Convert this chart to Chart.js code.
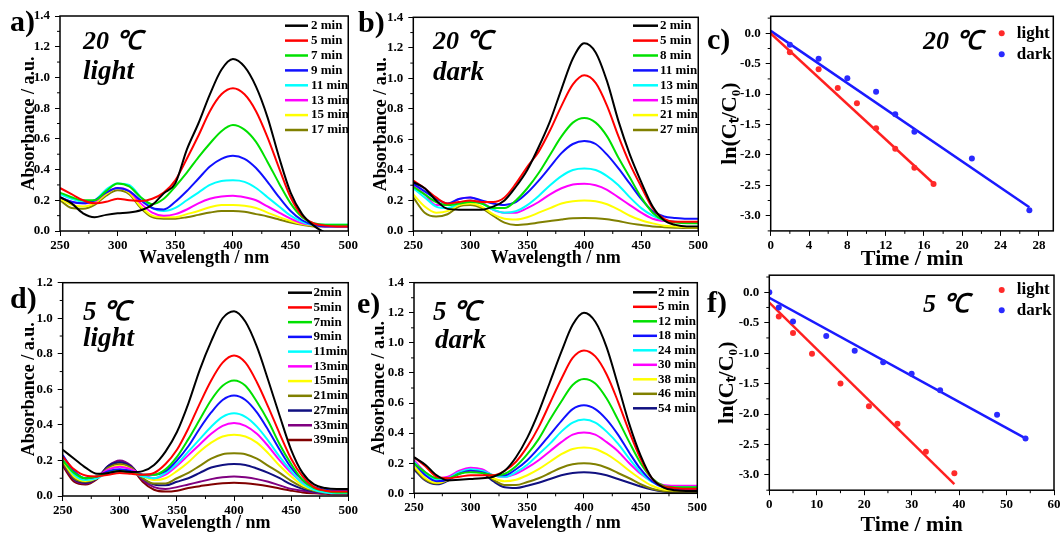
<!DOCTYPE html>
<html>
<head>
<meta charset="utf-8">
<script src="https://cdn.jsdelivr.net/npm/chart.js@4.4.1/dist/chart.umd.min.js"></script>
<style>
html, body { margin: 0; padding: 0; background: #fff; overflow: hidden; }
#fig { position: relative; width: 1063px; height: 533px; }
#fig canvas { position: absolute; }
.lbl { position: absolute; font-family: 'Liberation Serif', 'Times New Roman', serif; font-weight: bold; line-height: 1; white-space: nowrap; color: #000; }
.it { font-style: italic; }
</style>
</head>
<body>
<div id="fig"></div>
<script>
// wavelength grid shared by all spectra (nm)
var wavelengths = [250,260,270,280,290,300,310,320,330,340,350,360,370,380,390,400,410,420,430,440,450,460,470,480,490,500];

// a) 20 C light
var aLabels = ['2 min','5 min','7 min','9 min','11 min','13 min','15 min','17 min'];
var a2  = [0.22,0.18,0.115,0.09,0.105,0.115,0.12,0.135,0.17,0.245,0.31,0.53,0.7,0.89,1.05,1.12,1.07,0.94,0.74,0.48,0.25,0.11,0.035,-0.01,-0.03,-0.04];
var a5  = [0.28,0.24,0.2,0.18,0.19,0.21,0.2,0.195,0.21,0.25,0.33,0.47,0.62,0.78,0.89,0.93,0.89,0.78,0.61,0.41,0.22,0.1,0.05,0.035,0.03,0.03];
var a7  = [0.25,0.22,0.2,0.2,0.26,0.31,0.29,0.22,0.175,0.21,0.29,0.38,0.48,0.57,0.65,0.69,0.66,0.58,0.45,0.31,0.18,0.09,0.05,0.04,0.04,0.04];
var a9  = [0.22,0.19,0.18,0.2,0.25,0.28,0.26,0.2,0.15,0.14,0.19,0.26,0.34,0.42,0.47,0.49,0.47,0.41,0.32,0.22,0.13,0.07,0.04,0.03,0.03,0.03];
var a11 = [0.24,0.21,0.19,0.2,0.27,0.31,0.3,0.22,0.15,0.13,0.15,0.2,0.25,0.3,0.325,0.33,0.32,0.28,0.22,0.16,0.1,0.06,0.04,0.04,0.04,0.04];
var a13 = [0.22,0.19,0.18,0.19,0.25,0.28,0.26,0.18,0.12,0.1,0.11,0.14,0.18,0.21,0.225,0.23,0.22,0.2,0.16,0.12,0.08,0.05,0.04,0.03,0.03,0.03];
var a15 = [0.21,0.17,0.16,0.18,0.24,0.28,0.25,0.16,0.1,0.09,0.09,0.11,0.13,0.155,0.17,0.17,0.165,0.15,0.12,0.09,0.065,0.045,0.035,0.03,0.03,0.03];
var a17 = [0.2,0.15,0.145,0.17,0.23,0.265,0.24,0.15,0.09,0.08,0.08,0.09,0.105,0.12,0.13,0.13,0.125,0.11,0.095,0.075,0.055,0.04,0.03,0.03,0.03,0.03];

// b) 20 C dark
var bLabels = ['2 min','5 min','8 min','11 min','13 min','15 min','21 min','27 min'];
var b2  = [0.32,0.28,0.2,0.145,0.14,0.14,0.14,0.16,0.2,0.29,0.4,0.55,0.72,0.93,1.13,1.23,1.17,0.98,0.72,0.5,0.32,0.16,0.07,0.04,0.03,0.03];
var b5  = [0.33,0.28,0.22,0.18,0.19,0.2,0.19,0.19,0.22,0.31,0.42,0.52,0.66,0.82,0.96,1.02,0.97,0.82,0.62,0.44,0.29,0.15,0.08,0.06,0.06,0.06];
var b8  = [0.29,0.24,0.19,0.17,0.18,0.19,0.18,0.15,0.15,0.2,0.28,0.38,0.5,0.62,0.71,0.74,0.71,0.62,0.48,0.35,0.22,0.12,0.07,0.055,0.05,0.05];
var b11 = [0.31,0.26,0.21,0.18,0.21,0.22,0.2,0.18,0.17,0.19,0.25,0.33,0.42,0.51,0.57,0.59,0.57,0.5,0.41,0.31,0.21,0.13,0.095,0.085,0.08,0.08];
var b13 = [0.28,0.22,0.16,0.15,0.18,0.2,0.18,0.14,0.12,0.13,0.17,0.23,0.3,0.36,0.4,0.41,0.4,0.36,0.3,0.22,0.15,0.1,0.07,0.06,0.055,0.05];
var b15 = [0.3,0.24,0.17,0.17,0.21,0.22,0.19,0.14,0.12,0.12,0.15,0.19,0.24,0.28,0.305,0.31,0.3,0.27,0.22,0.17,0.12,0.08,0.065,0.06,0.055,0.055];
var b21 = [0.24,0.16,0.12,0.13,0.17,0.18,0.16,0.11,0.08,0.075,0.09,0.12,0.15,0.18,0.195,0.2,0.195,0.175,0.14,0.1,0.07,0.05,0.035,0.03,0.025,0.025];
var b27 = [0.22,0.12,0.095,0.11,0.16,0.17,0.15,0.1,0.055,0.04,0.045,0.055,0.065,0.075,0.083,0.085,0.083,0.077,0.065,0.05,0.04,0.03,0.025,0.022,0.02,0.02];

// d) 5 C light
var dLabels = ['2min','5min','7min','9min','11min','13min','15min','21min','27min','33min','39min'];
var d2  = [0.26,0.21,0.16,0.125,0.13,0.14,0.135,0.14,0.175,0.25,0.36,0.52,0.71,0.87,1.0,1.04,0.98,0.84,0.65,0.45,0.26,0.13,0.065,0.045,0.04,0.04];
var d5  = [0.22,0.15,0.115,0.11,0.12,0.13,0.125,0.12,0.13,0.18,0.26,0.38,0.52,0.65,0.75,0.79,0.75,0.64,0.5,0.35,0.21,0.11,0.05,0.03,0.025,0.025];
var d7  = [0.2,0.13,0.1,0.11,0.13,0.14,0.13,0.12,0.12,0.15,0.22,0.32,0.43,0.54,0.62,0.65,0.62,0.53,0.42,0.29,0.18,0.09,0.045,0.03,0.02,0.02];
var d9  = [0.23,0.14,0.1,0.11,0.14,0.15,0.14,0.12,0.12,0.14,0.2,0.28,0.38,0.47,0.54,0.565,0.54,0.47,0.37,0.26,0.16,0.09,0.05,0.035,0.03,0.03];
var d11 = [0.21,0.12,0.09,0.1,0.13,0.145,0.135,0.11,0.1,0.13,0.18,0.25,0.32,0.39,0.445,0.465,0.445,0.39,0.31,0.22,0.14,0.07,0.035,0.02,0.015,0.015];
var d13 = [0.22,0.13,0.095,0.11,0.15,0.165,0.15,0.12,0.1,0.12,0.17,0.23,0.29,0.35,0.395,0.41,0.395,0.35,0.28,0.2,0.13,0.075,0.04,0.03,0.025,0.025];
var d15 = [0.2,0.11,0.085,0.1,0.15,0.17,0.15,0.11,0.09,0.1,0.14,0.19,0.25,0.3,0.335,0.345,0.335,0.3,0.24,0.17,0.11,0.06,0.035,0.025,0.02,0.02];
var d21 = [0.19,0.1,0.08,0.1,0.16,0.18,0.16,0.1,0.07,0.07,0.1,0.13,0.17,0.21,0.235,0.24,0.235,0.21,0.17,0.13,0.085,0.05,0.03,0.02,0.02,0.02];
var d27 = [0.19,0.095,0.075,0.1,0.17,0.19,0.165,0.1,0.065,0.06,0.08,0.1,0.13,0.16,0.175,0.18,0.175,0.155,0.13,0.1,0.065,0.04,0.025,0.02,0.02,0.02];
var d33 = [0.18,0.09,0.07,0.1,0.17,0.2,0.17,0.09,0.05,0.04,0.05,0.065,0.08,0.095,0.105,0.11,0.105,0.095,0.08,0.06,0.04,0.03,0.02,0.015,0.015,0.015];
var d39 = [0.17,0.08,0.065,0.095,0.16,0.19,0.16,0.08,0.035,0.025,0.03,0.045,0.055,0.065,0.072,0.075,0.072,0.065,0.055,0.042,0.03,0.02,0.015,0.012,0.01,0.01];

// e) 5 C dark
var eLabels = ['2 min','5 min','12 min','18 min','24 min','30 min','38 min','46 min','54 min'];
var e2  = [0.24,0.19,0.12,0.085,0.09,0.095,0.1,0.11,0.15,0.24,0.37,0.54,0.74,0.94,1.12,1.2,1.14,0.97,0.72,0.46,0.25,0.1,0.04,0.02,0.015,0.015];
var e5  = [0.24,0.18,0.11,0.1,0.11,0.12,0.12,0.12,0.15,0.21,0.31,0.44,0.6,0.76,0.9,0.95,0.91,0.79,0.61,0.41,0.23,0.1,0.045,0.035,0.03,0.03];
var e12 = [0.2,0.14,0.1,0.1,0.13,0.14,0.135,0.12,0.13,0.18,0.26,0.36,0.49,0.61,0.72,0.76,0.73,0.63,0.49,0.34,0.2,0.1,0.05,0.04,0.04,0.04];
var e18 = [0.2,0.12,0.08,0.09,0.13,0.15,0.14,0.12,0.12,0.16,0.22,0.3,0.39,0.48,0.56,0.585,0.56,0.49,0.39,0.27,0.16,0.08,0.04,0.03,0.025,0.025];
var e24 = [0.21,0.13,0.09,0.1,0.14,0.16,0.15,0.12,0.11,0.14,0.19,0.26,0.33,0.41,0.47,0.49,0.47,0.41,0.33,0.23,0.14,0.075,0.045,0.04,0.04,0.04];
var e30 = [0.22,0.14,0.1,0.11,0.15,0.17,0.16,0.12,0.11,0.13,0.17,0.22,0.28,0.34,0.39,0.405,0.39,0.34,0.28,0.2,0.13,0.08,0.055,0.05,0.05,0.05];
var e38 = [0.18,0.1,0.07,0.09,0.14,0.16,0.15,0.1,0.08,0.09,0.12,0.16,0.21,0.26,0.295,0.305,0.295,0.26,0.21,0.15,0.095,0.05,0.025,0.02,0.015,0.015];
var e46 = [0.17,0.09,0.065,0.09,0.14,0.155,0.145,0.09,0.055,0.055,0.075,0.1,0.135,0.17,0.193,0.2,0.193,0.17,0.135,0.1,0.06,0.03,0.015,0.01,0.01,0.01];
var e54 = [0.16,0.085,0.06,0.085,0.14,0.155,0.14,0.08,0.04,0.035,0.05,0.07,0.095,0.12,0.135,0.14,0.135,0.12,0.095,0.07,0.045,0.025,0.012,0.008,0.005,0.005];

// c) 20 C kinetics: ln(Ct/C0) vs time
var cLightT = [2,5,7,9,11,13,15,17];
var cLightY = [-0.31,-0.59,-0.9,-1.15,-1.56,-1.9,-2.21,-2.48];
var cDarkT  = [2,5,8,11,13,15,21,27];
var cDarkY  = [-0.19,-0.42,-0.74,-0.96,-1.33,-1.62,-2.06,-2.91];
var cLightFitT = [0,17],  cLightFitY = [0.0,-2.47];
var cDarkFitT  = [0,27],  cDarkFitY  = [0.04,-2.86];

// f) 5 C kinetics
var fLightT = [2,5,9,15,21,27,33,39];
var fLightY = [-0.4,-0.67,-1.01,-1.5,-1.87,-2.16,-2.62,-2.97];
var fDarkT  = [0,2,5,12,18,24,30,36,48,54];
var fDarkY  = [0,-0.25,-0.48,-0.72,-0.96,-1.15,-1.34,-1.61,-2.01,-2.4];
var fLightFitT = [0,39],  fLightFitY = [-0.17,-3.15];
var fDarkFitT  = [0,54],  fDarkFitY  = [-0.09,-2.4];

var colors8  = ['#000000','#ff0000','#00e000','#1010ff','#00ffff','#ff00ff','#ffff00','#808000'];
var colors9  = ['#000000','#ff0000','#00e000','#1010ff','#00ffff','#ff00ff','#ffff00','#808000','#101080'];
var colors11 = ['#000000','#ff0000','#00e000','#1010ff','#00ffff','#ff00ff','#ffff00','#808000','#101080','#800080','#800000'];

var SERIF = "'Liberation Serif', 'Times New Roman', serif";
Chart.defaults.font.family = SERIF;
Chart.defaults.font.weight = 'bold';
Chart.defaults.font.size = 12;
Chart.defaults.color = '#000';
Chart.defaults.animation = false;

// frame round the plot area plus minor ticks halfway between the major ones
var frameTicks = {
    id: 'frameTicks',
    afterDraw: function (chart) {
        var ctx = chart.ctx, a = chart.chartArea;
        ctx.save();
        ctx.strokeStyle = '#000';
        ctx.lineWidth = 1;
        ['x', 'y'].forEach(function (id) {
            var s = chart.scales[id], t = s.ticks;
            if (t.length < 2) return;
            var step = t[1].value - t[0].value;
            for (var v = t[0].value - step / 2; v <= s.max + 1e-9; v += step) {
                if (v < s.min - 1e-9) continue;
                var p = s.getPixelForValue(v);
                ctx.beginPath();
                if (id === 'x') { ctx.moveTo(p, a.bottom); ctx.lineTo(p, a.bottom + 3); }
                else { ctx.moveTo(a.left, p); ctx.lineTo(a.left - 3, p); }
                ctx.stroke();
            }
        });
        ctx.lineWidth = 1.5;
        ctx.strokeRect(a.left, a.top, a.right - a.left, a.bottom - a.top);
        ctx.restore();
    }
};

// legend drawn inside the plot, top right
var boxLegend = {
    id: 'boxLegend',
    afterDraw: function (chart, args, o) {
        var ctx = chart.ctx, row = 0;
        ctx.save();
        ctx.font = o.font;
        ctx.textBaseline = 'middle';
        chart.data.datasets.forEach(function (ds) {
            if (ds.fit) return;
            var y = o.y + row * o.dy;
            if (o.dot) {
                ctx.fillStyle = ds.backgroundColor;
                ctx.beginPath();
                ctx.arc(o.x, y, 3, 0, 2 * Math.PI);
                ctx.fill();
            } else {
                ctx.strokeStyle = ds.borderColor;
                ctx.lineWidth = 2.5;
                ctx.beginPath();
                ctx.moveTo(o.x, y);
                ctx.lineTo(o.x + o.len, y);
                ctx.stroke();
            }
            ctx.fillStyle = '#000';
            ctx.fillText(ds.label, o.tx, y);
            row++;
        });
        ctx.restore();
    }
};

function spectra(series, labels, colors) {
    return series.map(function (vals, i) {
        return {
            label: labels[i],
            data: vals.map(function (v, k) { return { x: wavelengths[k], y: v }; }),
            borderColor: colors[i],
            borderWidth: 2,
            pointRadius: 0,
            cubicInterpolationMode: 'monotone',
            fill: false
        };
    });
}

function kinetics(lt, ly, dt, dy, lft, lfy, dft, dfy) {
    function pts(t, y) { return t.map(function (v, i) { return { x: v, y: y[i] }; }); }
    return [
        { label: 'light', data: pts(lt, ly), backgroundColor: '#ff2a2a', borderWidth: 0, pointRadius: 3 },
        { label: 'dark', data: pts(dt, dy), backgroundColor: '#2a2aff', borderWidth: 0, pointRadius: 3 },
        { fit: true, data: pts(lft, lfy), showLine: true, borderColor: '#ff2020', borderWidth: 2.5, pointRadius: 0 },
        { fit: true, data: pts(dft, dfy), showLine: true, borderColor: '#1a1aff', borderWidth: 2.5, pointRadius: 0 }
    ];
}

var fig = document.getElementById('fig');

function makePanel(p) {
    var c = document.createElement('canvas');
    c.width = p.box[2];
    c.height = p.box[3];
    c.style.left = p.box[0] + 'px';
    c.style.top = p.box[1] + 'px';
    fig.appendChild(c);

    var ox = p.box[0], oy = p.box[1];
    var lhY = p.yFont * 1.2, lhX = p.xFont * 1.2;
    var pl = p.yTitleX - ox - lhY / 2;
    var yW = (p.area[0] - ox) - pl;
    var pt = p.area[1] - oy;
    var pr = ox + p.box[2] - p.area[2];
    var xBottom = p.xTitleY - oy + lhX / 2;
    var pb = p.box[3] - xBottom;
    var xH = xBottom - (p.area[3] - oy);

    var lg = Object.assign({}, p.legend);
    lg.x -= ox; lg.tx -= ox; lg.y -= oy;

    var tickGrid = { display: true, drawOnChartArea: false, drawTicks: true, tickLength: 5, tickColor: '#000', tickWidth: 1 };
    var tickFont = { family: SERIF, size: 13, weight: 'bold' };

    new Chart(c.getContext('2d'), {
        type: p.type,
        data: { datasets: p.datasets },
        options: {
            responsive: false,
            layout: { padding: { left: pl, top: pt, right: pr, bottom: pb } },
            plugins: { legend: { display: false }, tooltip: { enabled: false }, boxLegend: lg },
            scales: {
                x: {
                    type: 'linear', min: p.x[0], max: p.x[1],
                    grid: tickGrid, border: { display: false },
                    ticks: { stepSize: p.x[2], includeBounds: false, padding: 2, maxRotation: 0, font: tickFont, color: '#000' },
                    title: { display: true, text: p.xTitle, font: { family: SERIF, size: p.xFont, weight: 'bold' }, padding: 0, color: '#000' },
                    afterFit: function (s) { s.height = xH; }
                },
                y: {
                    type: 'linear', min: p.y[0], max: p.y[1],
                    grid: tickGrid, border: { display: false },
                    ticks: { stepSize: p.y[2], includeBounds: false, padding: 5, font: tickFont, color: '#000',
                        callback: function (v) { return v.toFixed(1); } },
                    title: { display: true, text: p.yTitle, font: { family: SERIF, size: p.yFont, weight: 'bold' }, padding: 0, color: '#000' },
                    afterFit: function (s) { s.width = yW; }
                }
            }
        },
        plugins: [frameTicks, boxLegend]
    });
}

var specLegendFont = 'bold 13px ' + SERIF;
var kinLegendFont = 'bold 17px ' + SERIF;

makePanel({
    type: 'line', box: [0, 0, 360, 272], area: [60, 16, 349.5, 231],
    x: [250, 500, 50], y: [0, 1.4, 0.2],
    xTitle: 'Wavelength / nm', yTitle: 'Absorbance / a.u.', xFont: 18, yFont: 18, yTitleX: 29, xTitleY: 258,
    datasets: spectra([a2, a5, a7, a9, a11, a13, a15, a17], aLabels, colors8),
    legend: { x: 285, len: 23, tx: 311, y: 25.7, dy: 14.9, font: specLegendFont }
});
makePanel({
    type: 'line', box: [350, 0, 360, 272], area: [413.3, 17.3, 700, 231],
    x: [250, 500, 50], y: [0, 1.4, 0.2],
    xTitle: 'Wavelength / nm', yTitle: 'Absorbance / a.u.', xFont: 18, yFont: 18, yTitleX: 381, xTitleY: 258,
    datasets: spectra([b2, b5, b8, b11, b13, b15, b21, b27], bLabels, colors8),
    legend: { x: 633, len: 25, tx: 660, y: 25.7, dy: 14.9, font: specLegendFont }
});
makePanel({
    type: 'scatter', box: [700, 0, 363, 275], area: [770.7, 16.3, 1053.3, 230.9],
    x: [0, 29.5, 4], y: [-3.25, 0.28, 0.5],
    xTitle: 'Time / min', yTitle: 'ln(C\u209C/C\u2080)', xFont: 22, yFont: 22, yTitleX: 730, xTitleY: 259,
    datasets: kinetics(cLightT, cLightY, cDarkT, cDarkY, cLightFitT, cLightFitY, cDarkFitT, cDarkFitY),
    legend: { dot: true, x: 1001.7, tx: 1016.7, y: 33.3, dy: 21, font: kinLegendFont }
});
makePanel({
    type: 'line', box: [0, 258, 360, 280], area: [62.7, 282.7, 349.3, 496],
    x: [250, 500, 50], y: [0, 1.2, 0.2],
    xTitle: 'Wavelength / nm', yTitle: 'Absorbance / a.u.', xFont: 18, yFont: 18, yTitleX: 29, xTitleY: 523,
    datasets: spectra([d2, d5, d7, d9, d11, d13, d15, d21, d27, d33, d39], dLabels, colors11),
    legend: { x: 288, len: 24, tx: 313.5, y: 292.7, dy: 14.73, font: specLegendFont }
});
makePanel({
    type: 'line', box: [350, 258, 360, 280], area: [414, 282.7, 697.3, 493.3],
    x: [250, 500, 50], y: [0, 1.4, 0.2],
    xTitle: 'Wavelength / nm', yTitle: 'Absorbance / a.u.', xFont: 18, yFont: 18, yTitleX: 379, xTitleY: 523,
    datasets: spectra([e2, e5, e12, e18, e24, e30, e38, e46, e54], eLabels, colors9),
    legend: { x: 633, len: 24, tx: 658, y: 292.3, dy: 14.5, font: specLegendFont }
});
makePanel({
    type: 'scatter', box: [700, 258, 363, 282], area: [769.3, 275.2, 1054, 490.2],
    x: [0, 60, 10], y: [-3.25, 0.28, 0.5],
    xTitle: 'Time / min', yTitle: 'ln(C\u209C/C\u2080)', xFont: 22, yFont: 22, yTitleX: 727.5, xTitleY: 525,
    datasets: kinetics(fLightT, fLightY, fDarkT, fDarkY, fLightFitT, fLightFitY, fDarkFitT, fDarkFitY),
    legend: { dot: true, x: 1001.7, tx: 1016.7, y: 290, dy: 20.3, font: kinLegendFont }
});

// panel letters and condition notes, placed by baseline
var notes = [
    { t: 'a)', x: 10, b: 31, s: 30 }, { t: 'b)', x: 358, b: 32, s: 30 }, { t: 'c)', x: 707, b: 49, s: 30 },
    { t: 'd)', x: 10, b: 308, s: 30 }, { t: 'e)', x: 357, b: 313, s: 30 }, { t: 'f)', x: 707, b: 312, s: 30 },
    { t: '20 \u2103', x: 83, b: 50, s: 26, it: true }, { t: 'light', x: 83, b: 80, s: 27, it: true },
    { t: '20 \u2103', x: 433, b: 50, s: 26, it: true }, { t: 'dark', x: 433, b: 81, s: 27, it: true },
    { t: '20 \u2103', x: 923, b: 50, s: 26, it: true },
    { t: '5 \u2103', x: 83, b: 321, s: 27, it: true }, { t: 'light', x: 83, b: 347, s: 27, it: true },
    { t: '5 \u2103', x: 433, b: 321, s: 27, it: true }, { t: 'dark', x: 435, b: 349, s: 27, it: true },
    { t: '5 \u2103', x: 923, b: 313, s: 26, it: true }
];
notes.forEach(function (n) {
    var d = document.createElement('div');
    d.className = 'lbl' + (n.it ? ' it' : '');
    d.textContent = n.t;
    d.style.fontSize = n.s + 'px';
    d.style.left = n.x + 'px';
    d.style.top = (n.b - 0.84 * n.s) + 'px';
    fig.appendChild(d);
});
</script>
</body>
</html>
